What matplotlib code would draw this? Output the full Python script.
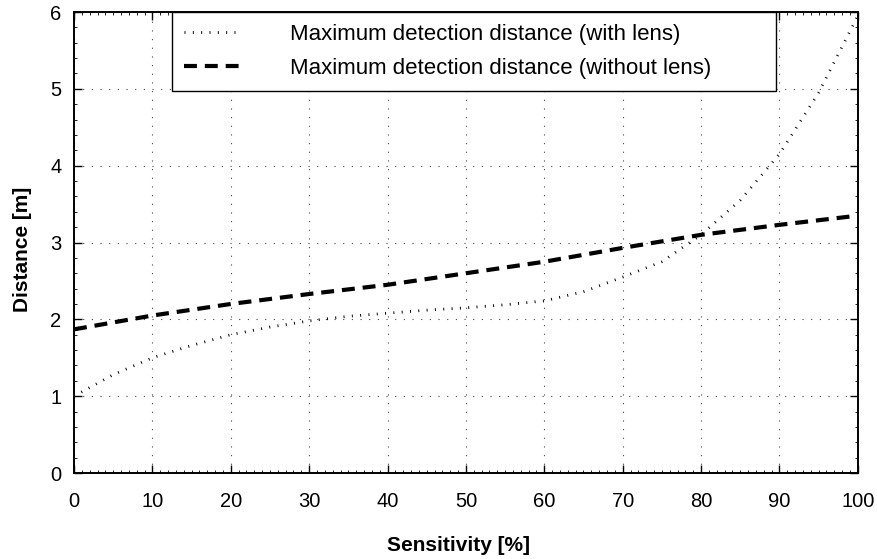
import matplotlib
matplotlib.use("Agg")
import matplotlib.pyplot as plt
from matplotlib.ticker import MultipleLocator

sensitivity = [0, 5, 10, 15, 20, 25, 30, 35, 40, 45, 50, 55, 60, 65, 70, 75, 80, 85, 90, 95, 100]
with_lens = [1.0, 1.28, 1.5, 1.66, 1.8, 1.9, 1.98, 2.04, 2.08, 2.12, 2.15, 2.19, 2.24, 2.36, 2.55, 2.75, 3.1, 3.55, 4.15, 4.95, 5.95]
sens_nolens = [0, 10, 20, 30, 40, 50, 60, 70, 80, 90, 100]
without_lens = [1.87, 2.05, 2.2, 2.33, 2.45, 2.6, 2.75, 2.93, 3.1, 3.23, 3.35]

label_with = "Maximum detection distance (with lens)"
label_without = "Maximum detection distance (without lens)"
xticks = [0, 10, 20, 30, 40, 50, 60, 70, 80, 90, 100]
yticks = [0, 1, 2, 3, 4, 5, 6]

plt.rcParams['font.family'] = ['Liberation Sans', 'DejaVu Sans']

fig = plt.figure(figsize=(8.78, 5.59), dpi=100)
ax = fig.add_axes([0.0843, 0.1538, 0.977 - 0.0843, 0.9785 - 0.1538])

ax.plot(sensitivity, with_lens, color='black', lw=2.0, dashes=(0.35, 2.65), label=label_with)
ax.plot(sens_nolens, without_lens, color='black', lw=3.0, dashes=(3.1, 1.9), label=label_without)

ax.set_xlim(0, 100)
ax.set_ylim(0, 6)
ax.set_xticks(xticks)
ax.set_yticks(yticks)
ax.xaxis.set_minor_locator(MultipleLocator(1))
ax.yaxis.set_minor_locator(MultipleLocator(0.2))
ax.grid(True, which='major', color='#444444', linestyle=(0, (1, 6.8)), linewidth=0.8)
ax.tick_params(which='major', direction='in', top=True, right=True, length=6, width=1.0, labelsize=14.5)
ax.tick_params(which='minor', direction='in', top=True, right=True, length=2.5, width=0.6)
ax.tick_params(axis='x', which='major', pad=14)
ax.tick_params(axis='y', which='major', pad=9)
for s in ax.spines.values():
    s.set_linewidth(1.4)

ax.set_xlabel("Sensitivity [%]", fontsize=15, fontweight='bold', labelpad=18)
ax.set_ylabel("Distance [m]", fontsize=15, fontweight='bold', labelpad=13)
ax.xaxis.label.set_x(0.49)
ax.yaxis.label.set_y(0.485)

x0 = (172 - 74) / 784
w = (776 - 172) / 784
leg = ax.legend(loc='upper left', bbox_to_anchor=(x0, 0.0, w, 1.0), mode='expand', fontsize=16,
                handlelength=2.6, handletextpad=2.15, borderpad=0.55, labelspacing=0.57,
                fancybox=False, framealpha=1, edgecolor='black', borderaxespad=0)
leg.get_frame().set_linewidth(1.0)

fig.savefig("out.png", dpi=100)
